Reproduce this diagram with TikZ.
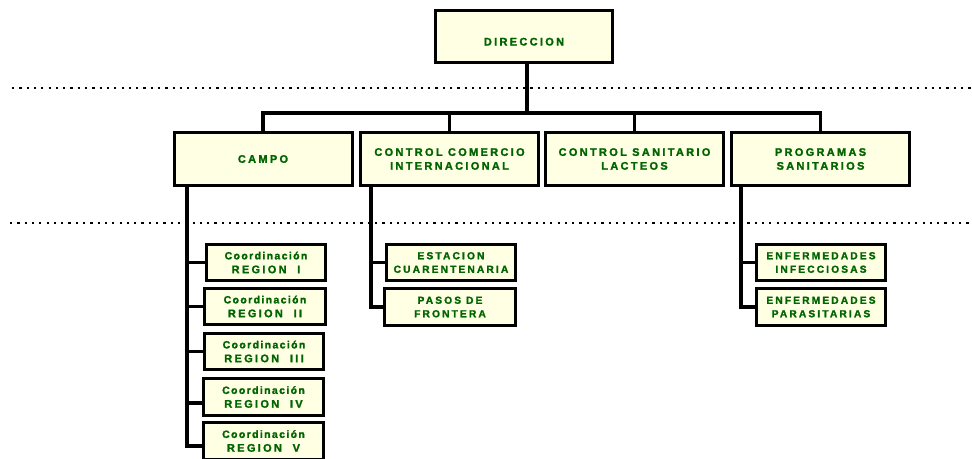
\documentclass[tikz,border=0pt]{standalone}
\usepackage{fontspec}
\newfontfamily\orgfont[LetterSpace=21,FakeBold=1.6]{Liberation Sans Bold}
\newfontfamily\coordfont[LetterSpace=13,FakeBold=1.6]{Liberation Sans Bold}
\newcommand{\coordword}{{\coordfont\fontsize{10.5}{13.5}\selectfont Coordinación}}
\usetikzlibrary{calc}
\definecolor{boxfill}{RGB}{255,255,228}
\definecolor{txtgreen}{RGB}{0,100,0}
\tikzset{
  orgbox/.style={draw=black, line width=3pt, fill=boxfill, align=center, inner sep=0pt,
    font=\orgfont\fontsize{11}{13.8}\selectfont, text=txtgreen},
  smallbox/.style={orgbox, font=\orgfont\fontsize{10.2}{13.5}\selectfont},
  link/.style={line width=3.4pt, black},
  sepline/.style={line width=2.2pt, black, dash pattern=on 2.2pt off 5.1pt}
}
\begin{document}
\begin{tikzpicture}[x=1pt,y=-1pt]
\clip (0,0) rectangle (972,458);
\fill[white] (0,0) rectangle (972,458);
% separators
\draw[sepline] (12,88) -- (972,88);
\draw[sepline] (10,223) -- (972,223);
% top
\node[orgbox, minimum width=177, minimum height=52, text height=18pt, text depth=0pt] (dir) at (524,36.5) {DIRECCION};
% level 2
\node[orgbox, minimum width=178, minimum height=53] (campo) at (263,159) {CAMPO};
\node[orgbox, minimum width=178, minimum height=53] (comercio) at (449.5,159) {CONTROL COMERCIO\\INTERNACIONAL};
\node[orgbox, minimum width=178, minimum height=53] (lacteos) at (634.5,159) {CONTROL SANITARIO\\LACTEOS};
\node[orgbox, minimum width=178, minimum height=53] (prog) at (820.5,159) {PROGRAMAS\\SANITARIOS};
% level 3
\node[orgbox, minimum width=119, minimum height=36] (r1) at (266,262.5) {\coordword\\REGION~~I};
\node[orgbox, minimum width=121, minimum height=36] (r2) at (265,306.5) {\coordword\\REGION~~II};
\node[orgbox, minimum width=119, minimum height=36] (r3) at (264,351.5) {\coordword\\REGION~~III};
\node[orgbox, minimum width=120, minimum height=37] (r4) at (263.5,397) {\coordword\\REGION~~IV};
\node[orgbox, minimum width=120, minimum height=37] (r5) at (263.5,441) {\coordword\\REGION~~V};
\node[smallbox, minimum width=129, minimum height=36] (est) at (451,262.5) {ESTACION\\CUARENTENARIA};
\node[smallbox, minimum width=131, minimum height=37] (pasos) at (450,307) {PASOS DE\\FRONTERA};
\node[smallbox, minimum width=129, minimum height=36] (einf) at (821,262.5) {ENFERMEDADES\\INFECCIOSAS};
\node[smallbox, minimum width=129, minimum height=37] (epar) at (821,307) {ENFERMEDADES\\PARASITARIAS};
% bus
\coordinate (bus) at (527,113);
\draw[link] (dir.south -| bus) -- (bus);
\draw[link] (campo.north) |- (bus) -| (prog.north);
\draw[link] (comercio.north) -- (comercio.north |- bus);
\draw[link] (lacteos.north) -- (lacteos.north |- bus);
% stems
\coordinate (campostem) at ($(campo.south west)+(14.5,0)$);
\coordinate (comstem) at ($(comercio.south west)+(12,0)$);
\coordinate (progstem) at ($(prog.south west)+(11,0)$);
\draw[link] (campostem) |- (r1.west);
\draw[link] (campostem) |- (r2.west);
\draw[link] (campostem) |- (r3.west);
\draw[link] (campostem) |- ([yshift=-6pt]r4.west);
\draw[link] (campostem) |- ([yshift=-5pt]r5.west);
\draw[link] (comstem) |- (est.west);
\draw[link] (comstem) |- (pasos.west);
\draw[link] (progstem) |- (einf.west);
\draw[link] (progstem) |- (epar.west);
\end{tikzpicture}
\end{document}
